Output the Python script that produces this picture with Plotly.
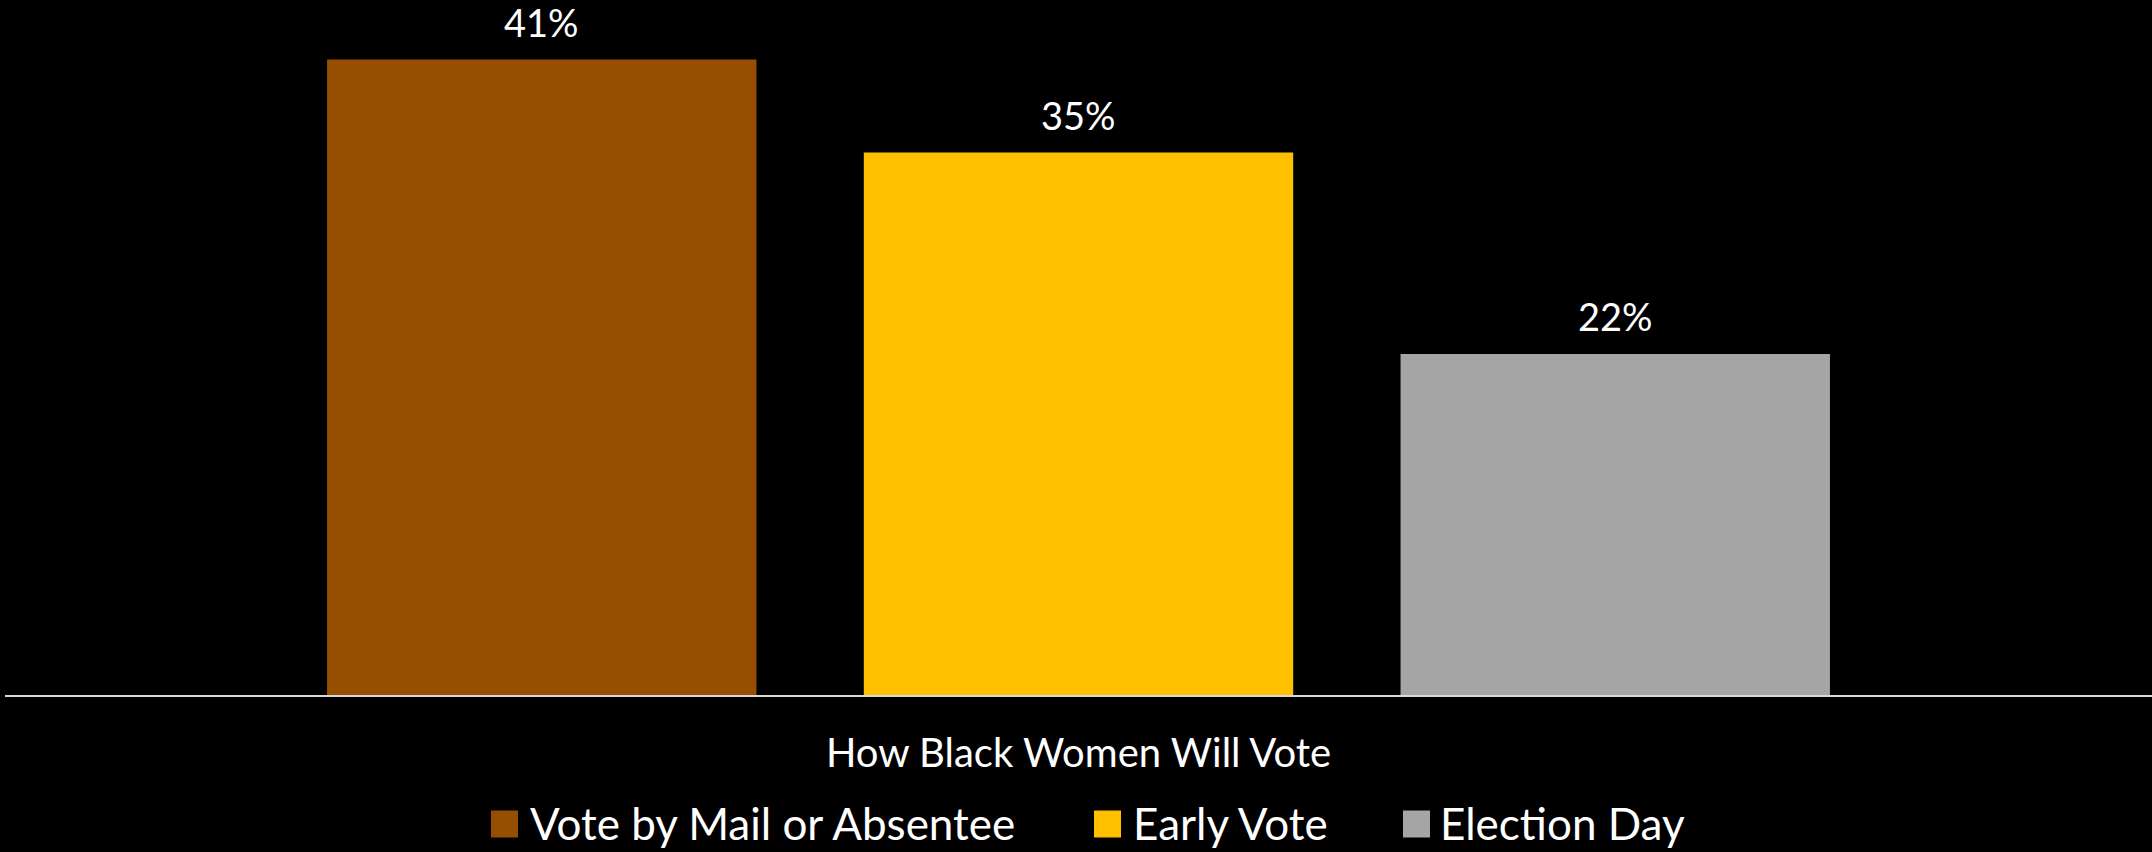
import plotly.graph_objects as go

# ---- data ----
category = ["How Black Women Will Vote"]
series_names = ["Vote by Mail or Absentee", "Early Vote", "Election Day"]
series_values = [41, 35, 22]
series_colors = ["#964F00", "#FFC000", "#A5A5A5"]

# ---- layout constants ----
W, H = 2152, 852
ML, MR, MT, MB = 5, 0, 13, 157
BARGAP, BARGROUPGAP = 0.25, 0.2
FONT = "Lato"
FS_LABEL = 38
FS_TICK = 40
FS_LEG = 44
plot_w = W - ML - MR
plot_h = H - MT - MB
slot = plot_w * (1 - BARGAP) / len(series_names)

fig = go.Figure()
for name, val, col in zip(series_names, series_values, series_colors):
    fig.add_trace(go.Bar(
        x=category, y=[val], name=name,
        marker=dict(color=col, line=dict(width=0)),
        showlegend=False, hoverinfo="skip",
    ))

annotations = []
n = len(series_names)
for i, (name, val) in enumerate(zip(series_names, series_values)):
    annotations.append(dict(
        x=category[0], y=val, xref="x", yref="y",
        text=f"{val}%", showarrow=False,
        xshift=(i - (n - 1) / 2) * slot, yshift=13,
        yanchor="bottom", xanchor="center",
        font=dict(family=FONT, size=FS_LABEL, color="#FFFFFF"),
    ))

# custom legend (large square swatches like the original)
legend_sq_px = [491, 1094, 1403]
legend_txt_px = [529, 1132, 1439]
sq = 27
leg_cy = 823
def px2x(px):
    return (px - ML) / plot_w
def py2y(py):
    return (H - MB - py) / plot_h

shapes = []
for name, col, sx, tx in zip(series_names, series_colors, legend_sq_px, legend_txt_px):
    shapes.append(dict(
        type="rect", xref="paper", yref="paper",
        x0=px2x(sx), x1=px2x(sx + sq),
        y0=py2y(leg_cy + 1 + sq / 2), y1=py2y(leg_cy + 1 - sq / 2),
        fillcolor=col, line=dict(width=0),
    ))
    annotations.append(dict(
        x=px2x(tx), y=py2y(leg_cy), xref="paper", yref="paper",
        text=name, showarrow=False, xanchor="left", yanchor="middle",
        borderpad=0,
        font=dict(family=FONT, size=FS_LEG, color="#FFFFFF"),
    ))

fig.update_layout(
    width=W, height=H,
    margin=dict(l=ML, r=MR, t=MT, b=MB, pad=0),
    paper_bgcolor="#000000", plot_bgcolor="#000000",
    barmode="group", bargap=BARGAP, bargroupgap=BARGROUPGAP,
    font=dict(family=FONT, size=FS_LABEL, color="#FFFFFF"),
    xaxis=dict(
        type="category", showline=True, linecolor="#D9D9D9", linewidth=2,
        showgrid=False, zeroline=False, ticks="",
        tickfont=dict(family=FONT, size=FS_TICK, color="#FFFFFF"),
        ticklabelstandoff=22, fixedrange=True,
    ),
    yaxis=dict(range=[0, 44], visible=False, showgrid=False, zeroline=False, fixedrange=True),
    shapes=shapes,
    annotations=annotations,
    showlegend=False,
)

fig.write_html(
    "out.html",
    config={"displayModeBar": False},
    post_script="document.body.style.margin='0';document.body.style.background='#000';",
)
